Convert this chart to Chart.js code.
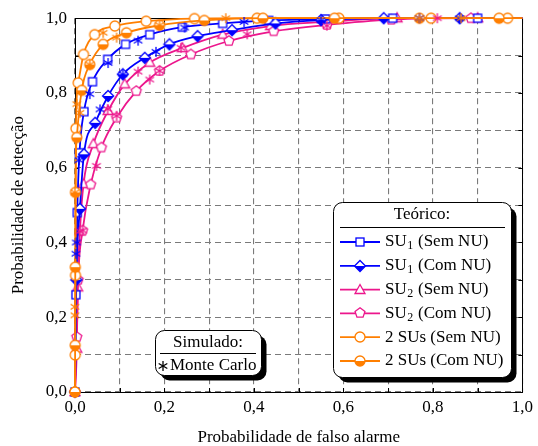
<!DOCTYPE html>
<html>
<head>
<meta charset="utf-8">
<script src="https://cdn.jsdelivr.net/npm/chart.js@4.4.0/dist/chart.umd.min.js"></script>
<style>
  body { margin: 0; background: #fff; }
</style>
</head>
<body>
<canvas id="myChart" width="538" height="446"></canvas>
<script>
// data (Pfa, Pd)

const su1SemX = [0, 0.002, 0.005, 0.010, 0.020, 0.039, 0.073, 0.113, 0.167, 0.240, 0.330, 0.433, 0.560, 0.710, 0.900, 1.0];
const su1SemY = [0, 0.26, 0.48, 0.64, 0.75, 0.83, 0.89, 0.93, 0.956, 0.976, 0.986, 0.994, 0.998, 1.0, 1.0, 1.0];

const su1ComX = [0, 0.003, 0.011, 0.020, 0.045, 0.074, 0.107, 0.156, 0.211, 0.274, 0.351, 0.448, 0.550, 0.690, 0.860, 1.0];
const su1ComY = [0, 0.30, 0.49, 0.636, 0.72, 0.792, 0.85, 0.894, 0.93, 0.952, 0.968, 0.986, 0.995, 1.0, 1.0, 1.0];

const su2SemX = [0, 0.004, 0.006, 0.011, 0.019, 0.041, 0.074, 0.111, 0.167, 0.240, 0.330, 0.437, 0.560, 0.720, 0.900, 1.0];
const su2SemY = [0, 0.116, 0.28, 0.43, 0.556, 0.663, 0.752, 0.823, 0.881, 0.92, 0.956, 0.979, 0.99, 1.0, 1.0, 1.0];

const su2ComX = [0, 0.004, 0.007, 0.017, 0.035, 0.059, 0.093, 0.137, 0.189, 0.259, 0.344, 0.444, 0.563, 0.707, 0.885, 1.0];
const su2ComY = [0, 0.147, 0.30, 0.432, 0.555, 0.654, 0.734, 0.805, 0.859, 0.903, 0.939, 0.965, 0.982, 0.996, 1.0, 1.0];

const dosSemX = [0, 0.0005, 0.001, 0.002, 0.007, 0.019, 0.044, 0.089, 0.159, 0.267, 0.407, 0.590, 0.796, 0.967, 1.0];
const dosSemY = [0, 0.099, 0.312, 0.705, 0.827, 0.903, 0.956, 0.979, 0.992, 0.999, 1.0, 1.0, 1.0, 1.0, 1.0];

const dosComX = [0, 0.0003, 0.0006, 0.001, 0.004, 0.015, 0.033, 0.063, 0.115, 0.189, 0.289, 0.420, 0.580, 0.770, 0.948, 1.0];
const dosComY = [0, 0.125, 0.334, 0.534, 0.681, 0.807, 0.876, 0.93, 0.961, 0.981, 0.994, 1.0, 1.0, 1.0, 1.0, 1.0];

// Monte Carlo (asteriscos)
const mcAzulX = [0.002, 0.003, 0.009, 0.033, 0.056, 0.074, 0.107, 0.141, 0.181, 0.245, 0.378, 0.550, 0.770, 0.860];
const mcAzulY = [0.37, 0.40, 0.62, 0.797, 0.756, 0.88, 0.85, 0.94, 0.91, 0.975, 0.99, 0.994, 1.0, 1.0];

const mcRosaX = [0.011, 0.017, 0.048, 0.073, 0.093, 0.141, 0.167, 0.189, 0.237, 0.385, 0.563, 0.810];
const mcRosaY = [0.43, 0.432, 0.605, 0.757, 0.739, 0.857, 0.836, 0.859, 0.921, 0.957, 0.98, 1.0];

const mcLaranjaX = [0, 0, 0, 0.004, 0.011, 0.033, 0.063, 0.093, 0.189, 0.337, 0.770, 0.863];
const mcLaranjaY = [0.205, 0.228, 0.534, 0.77, 0.747, 0.876, 0.961, 0.948, 0.981, 1.0, 1.0, 1.0];

const ticksVal = [0, 0.1, 0.2, 0.3, 0.4, 0.5, 0.6, 0.7, 0.8, 0.9, 1.0];

const AZUL = 'rgb(0,0,255)';
const ROSA = 'rgb(236,22,140)';
const LARANJA = 'rgb(255,127,0)';

// marcadores
function mk(draw, size) {
  size = size || 14;
  const c = document.createElement('canvas');
  c.width = size; c.height = size;
  const g = c.getContext('2d');
  g.translate(size / 2, size / 2);
  g.lineWidth = 1.3;
  draw(g);
  return c;
}
function poly(g, pts) {
  g.beginPath();
  pts.forEach((p, i) => i ? g.lineTo(p[0], p[1]) : g.moveTo(p[0], p[1]));
  g.closePath();
}
const mQuad = mk(g => {
  g.fillStyle = '#fff'; g.fillRect(-4, -4, 8, 8);
  g.strokeStyle = AZUL; g.strokeRect(-4, -4, 8, 8);
});
const mLosango = mk(g => {
  const r = 5.5;
  poly(g, [[0, -r], [r, 0], [0, r], [-r, 0]]);
  g.fillStyle = '#fff'; g.fill();
  poly(g, [[-r, 0], [r, 0], [0, r]]);
  g.fillStyle = AZUL; g.fill();
  poly(g, [[0, -r], [r, 0], [0, r], [-r, 0]]);
  g.strokeStyle = AZUL; g.stroke();
});
const mTri = mk(g => {
  poly(g, [[0, -5.5], [5, 3.5], [-5, 3.5]]);
  g.fillStyle = '#fff'; g.fill();
  g.strokeStyle = ROSA; g.stroke();
});
const mPent = mk(g => {
  const p = [];
  for (let i = 0; i < 5; i++) {
    const a = -Math.PI / 2 + i * 2 * Math.PI / 5;
    p.push([5.2 * Math.cos(a), 5.2 * Math.sin(a)]);
  }
  poly(g, p);
  g.fillStyle = '#fff'; g.fill();
  g.strokeStyle = ROSA; g.stroke();
});
const mCirc = mk(g => {
  g.beginPath(); g.arc(0, 0, 5, 0, 2 * Math.PI);
  g.fillStyle = '#fff'; g.fill();
  g.strokeStyle = LARANJA; g.stroke();
});
const mCircMeio = mk(g => {
  g.beginPath(); g.arc(0, 0, 5, 0, 2 * Math.PI);
  g.fillStyle = '#fff'; g.fill();
  g.beginPath(); g.arc(0, 0, 5, 0, Math.PI); g.closePath();
  g.fillStyle = LARANJA; g.fill();
  g.beginPath(); g.arc(0, 0, 5, 0, 2 * Math.PI);
  g.strokeStyle = LARANJA; g.stroke();
});
function asterisco(cor) {
  return mk(g => {
    g.strokeStyle = cor;
    for (let i = 0; i < 3; i++) {
      const a = Math.PI / 2 + i * Math.PI / 3;
      g.beginPath();
      g.moveTo(-5 * Math.cos(a), -5 * Math.sin(a));
      g.lineTo(5 * Math.cos(a), 5 * Math.sin(a));
      g.stroke();
    }
  }, 12);
}
const aAzul = asterisco(AZUL), aRosa = asterisco(ROSA), aLaranja = asterisco(LARANJA), aPreto = asterisco('#000');

const pts = (xs, ys) => xs.map((x, i) => ({ x: x, y: ys[i] }));

function teorico(label, xs, ys, cor, img, ordem) {
  const n = xs.length;
  return {
    label: label,
    data: pts(xs, ys),
    showLine: true,
    borderColor: cor,
    backgroundColor: cor,
    borderWidth: 1.8,
    pointStyle: img,
    pointRadius: ctx => (ctx.dataIndex === n - 1 ? 0 : 5),
    cubicInterpolationMode: 'monotone',
    clip: false,
    order: ordem
  };
}
function simulado(xs, ys, img) {
  return {
    label: 'Monte Carlo',
    data: pts(xs, ys),
    showLine: false,
    pointStyle: img,
    pointRadius: 5,
    clip: false,
    order: 0
  };
}

const fmt = v => {
  const k = Math.round(v * 10);
  return k % 2 === 0 ? (k / 10).toFixed(1).replace('.', ',') : '';
};

// moldura e marcas de escala
const moldura = {
  id: 'moldura',
  beforeDatasetsDraw(chart) {
    const c = chart.ctx, a = chart.chartArea;
    const sx = chart.scales.x, sy = chart.scales.y;
    c.save();
    c.strokeStyle = '#000';
    c.lineWidth = 1;
    c.beginPath();
    for (let k = 1; k < 10; k++) {
      const px = Math.round(sx.getPixelForValue(k / 10)) + 0.5;
      c.moveTo(px, a.bottom); c.lineTo(px, a.bottom - 4);
      c.moveTo(px, a.top); c.lineTo(px, a.top + 4);
      const py = Math.round(sy.getPixelForValue(k / 10)) + 0.5;
      c.moveTo(a.left, py); c.lineTo(a.left + 4, py);
      c.moveTo(a.right, py); c.lineTo(a.right - 4, py);
    }
    c.stroke();
    c.strokeRect(Math.round(a.left) + 0.5, Math.round(a.top) + 0.5, Math.round(a.right - a.left), Math.round(a.bottom - a.top));
    c.restore();
  }
};

// legendas desenhadas à mão
function caixa(c, x, y, w, h) {
  c.fillStyle = '#000';
  c.beginPath(); c.roundRect(x + 5, y + 5, w, h, 9); c.fill();
  c.fillStyle = '#fff';
  c.beginPath(); c.roundRect(x, y, w, h, 9); c.fill();
  c.strokeStyle = '#000'; c.lineWidth = 1; c.stroke();
}
const legendas = {
  id: 'legendas',
  afterDraw(chart) {
    const c = chart.ctx;
    c.save();
    const F = '17px "Liberation Serif", serif';
    const Fs = '12px "Liberation Serif", serif';
    c.textBaseline = 'middle';

    // Teórico
    caixa(c, 333.5, 202.5, 178, 175);
    c.font = F; c.fillStyle = '#000'; c.textAlign = 'center';
    c.fillText('Teórico:', 422, 215);
    c.beginPath(); c.moveTo(340, 227.5); c.lineTo(505, 227.5); c.lineWidth = 1; c.strokeStyle = '#000'; c.stroke();

    const linhas = [
      ['SU', '1', ' (Sem NU)', AZUL, mQuad],
      ['SU', '1', ' (Com NU)', AZUL, mLosango],
      ['SU', '2', ' (Sem NU)', ROSA, mTri],
      ['SU', '2', ' (Com NU)', ROSA, mPent],
      ['2 SUs', '', ' (Sem NU)', LARANJA, mCirc],
      ['2 SUs', '', ' (Com NU)', LARANJA, mCircMeio]
    ];
    linhas.forEach((l, i) => {
      const y = 242 + i * 23.8;
      c.strokeStyle = l[3]; c.lineWidth = 1.8;
      c.beginPath(); c.moveTo(340, y); c.lineTo(380, y); c.stroke();
      c.drawImage(l[4], 360 - l[4].width / 2, Math.round(y) - l[4].height / 2);
      c.fillStyle = '#000'; c.textAlign = 'left';
      let x = 385;
      c.font = F; c.fillText(l[0], x, y); x += c.measureText(l[0]).width;
      if (l[1]) { c.font = Fs; c.fillText(l[1], x + 0.5, y + 4); x += c.measureText(l[1]).width + 1; }
      c.font = F; c.fillText(l[2], x, y);
    });

    // Simulado
    caixa(c, 155.5, 330.5, 106, 45);
    c.font = F; c.fillStyle = '#000'; c.textAlign = 'center';
    c.fillText('Simulado:', 208, 343);
    c.beginPath(); c.moveTo(160, 353.5); c.lineTo(256, 353.5); c.lineWidth = 1; c.strokeStyle = '#000'; c.stroke();
    c.drawImage(aPreto, 163 - 6, 366 - 6);
    c.textAlign = 'left';
    c.fillText('Monte Carlo', 170, 366);
    c.restore();
  }
};

Chart.defaults.font.family = '"Liberation Serif", serif';
Chart.defaults.font.size = 17;
Chart.defaults.color = '#000';

const config = {
  type: 'scatter',
  data: {
    datasets: [
      simulado(mcLaranjaX, mcLaranjaY, aLaranja),
      simulado(mcAzulX, mcAzulY, aAzul),
      simulado(mcRosaX, mcRosaY, aRosa),
      teorico('2 SUs (Com NU)', dosComX, dosComY, LARANJA, mCircMeio, 1),
      teorico('2 SUs (Sem NU)', dosSemX, dosSemY, LARANJA, mCirc, 2),
      teorico('SU1 (Com NU)', su1ComX, su1ComY, AZUL, mLosango, 3),
      teorico('SU1 (Sem NU)', su1SemX, su1SemY, AZUL, mQuad, 4),
      teorico('SU2 (Com NU)', su2ComX, su2ComY, ROSA, mPent, 5),
      teorico('SU2 (Sem NU)', su2SemX, su2SemY, ROSA, mTri, 6)
    ]
  },
  options: {
    responsive: false,
    animation: false,
    layout: { padding: { left: 0, right: 13, top: 17, bottom: 0 } },
    plugins: {
      legend: { display: false },
      tooltip: { enabled: false }
    },
    scales: {
      x: {
        type: 'linear',
        min: 0, max: 1,
        afterFit: s => { s.height = 54; },
        ticks: {
          autoSkip: false,
          maxRotation: 0,
          padding: 5,
          callback: fmt
        },
        afterBuildTicks: s => { s.ticks = ticksVal.map(v => ({ value: v })); },
        grid: { color: '#7a7a7a', lineWidth: 1.1, drawTicks: false },
        border: { display: false, dash: [6, 4] },
        title: { display: true, text: 'Probabilidade de falso alarme', font: { lineHeight: 1 }, padding: { top: 0, bottom: 0 } }
      },
      y: {
        min: 0, max: 1,
        afterFit: s => { s.width = 75; },
        ticks: {
          autoSkip: false,
          padding: 8,
          callback: fmt
        },
        afterBuildTicks: s => { s.ticks = ticksVal.map(v => ({ value: v })); },
        grid: { color: '#7a7a7a', lineWidth: 1.1, drawTicks: false },
        border: { display: false, dash: [6, 4] },
        title: { display: true, text: 'Probabilidade de detecção', padding: { top: 8, bottom: 0 } }
      }
    }
  },
  plugins: [moldura, legendas]
};

const myChart = new Chart(document.getElementById('myChart'), config);
</script>
</body>
</html>
